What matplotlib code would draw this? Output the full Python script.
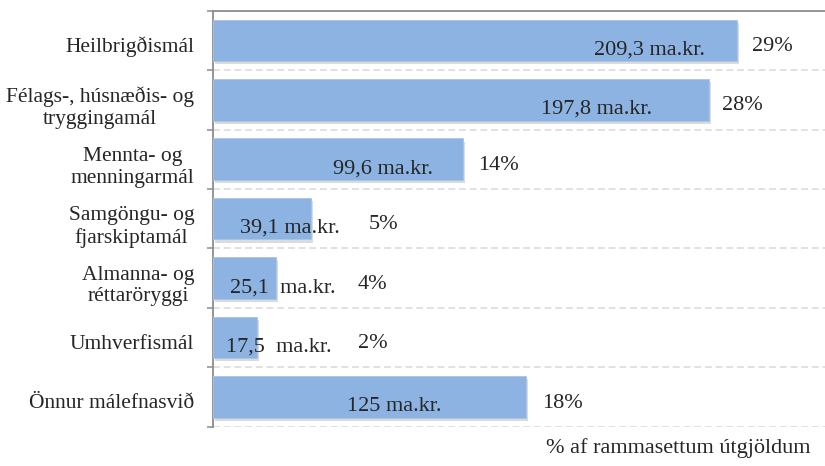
import matplotlib
matplotlib.use("Agg")
import matplotlib.pyplot as plt
import matplotlib.patheffects as pe
from matplotlib.transforms import ScaledTranslation
import numpy as np

categories = ["Heilbrigðismál", "Félags-, húsnæðis- og\ntryggingamál", "Mennta- og\nmenningarmál",
              "Samgöngu- og\nfjarskiptamál", "Almanna- og\nréttaröryggi", "Umhverfismál",
              "Önnur málefnasvið"]
values = [209.3, 197.8, 99.6, 39.1, 25.1, 17.5, 125.0]
value_labels = ["209,3 ma.kr.", "197,8 ma.kr.", "99,6 ma.kr.", "39,1 ma.kr.", "25,1  ma.kr.",
                "17,5  ma.kr.", "125 ma.kr."]
pct_labels = ["29%", "28%", "14%", "5%", "4%", "2%", "18%"]
x_title = "% af rammasettum útgjöldum"

# label offsets (pixels relative to bar end), manual placement as in the reference
val_dx = [-32.6, -56.6, -29.4, 28.3, 59.0, 74.3, -85.0]
pct_dx = [15.0, 13.4, 15.3, 57.3, 81.3, 101.0, 15.7]

W, H = 825, 466
fig = plt.figure(figsize=(W / 100, H / 100), dpi=100)
plt.rcParams['font.family'] = ['Liberation Serif', 'DejaVu Serif']
ax = fig.add_axes([213.3 / W, 1 - 426.7 / H, 1 - 213.3 / W, (426.7 - 10.7) / H])

n = len(categories)
y = np.arange(n)
bar_color = "#8DB3E2"
bars = ax.barh(y, values, height=0.70, color=bar_color, edgecolor="#A9C4E8", linewidth=0.6, zorder=3)
for b in bars:
    b.set_path_effects([pe.SimplePatchShadow(offset=(1.5, -2.2), shadow_rgbFace="#8a8a8a", alpha=0.3),
                        pe.Normal()])

ax.set_xlim(0, 244.3)
ax.set_ylim(n - 0.5, -0.5)

# gridlines at category boundaries
bounds = np.arange(n) + 0.5
for yb in bounds:
    ax.axhline(yb, color="#D9D9D9", lw=1.1, dashes=(4.5, 2.5), zorder=1)

ax.set_yticks(y)
ax.set_yticklabels(categories, fontsize=15.5, color="#262626", linespacing=1.2,
                   multialignment="center")
ax.tick_params(axis="y", which="major", length=0, pad=13.7)
shift = ScaledTranslation(0, -4 / 100, fig.dpi_scale_trans)
for lab in ax.get_yticklabels():
    lab.set_transform(lab.get_transform() + shift)
ax.set_yticks(np.concatenate([[-0.5], bounds]), minor=True)
ax.tick_params(axis="y", which="minor", length=4.3, width=1.1, color="#8C8C8C", direction="out")
ax.set_xticks([])

for s in ["right", "bottom"]:
    ax.spines[s].set_visible(False)
for s in ["left", "top"]:
    ax.spines[s].set_color("#8C8C8C")
    ax.spines[s].set_linewidth(1.3)

px2pt = 0.72
for i, v in enumerate(values):
    ax.annotate(value_labels[i], xy=(v, i), xytext=(val_dx[i] * px2pt, -14 * px2pt),
                textcoords="offset points", ha="right", va="baseline",
                fontsize=16, color="#262626", zorder=5)
    ax.annotate(pct_labels[i], xy=(v, i), xytext=(pct_dx[i] * px2pt, -10.6 * px2pt),
                textcoords="offset points", ha="left", va="baseline",
                fontsize=16, color="#262626", zorder=5)

fig.text(811 / W, 1 - 448 / H, x_title, ha="right", va="center", fontsize=16, color="#262626")

fig.savefig("out.png", dpi=100)
